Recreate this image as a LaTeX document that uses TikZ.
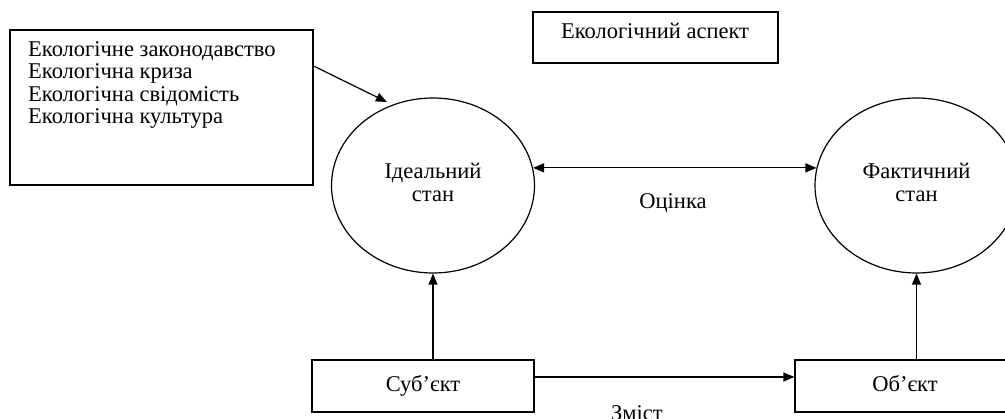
\documentclass[tikz,border=0pt]{standalone}
\usepackage{fontspec}
\setmainfont{Liberation Serif}
\usetikzlibrary{arrows.meta,shapes.geometric}
\begin{document}
\begin{tikzpicture}[x=1pt,y=-1pt,
  every node/.style={font=\fontsize{22.5}{22.5}\selectfont},
  boxnode/.style={draw,line width=1.2pt,rectangle,inner sep=0pt},
  ellnode/.style={draw,line width=1.2pt,ellipse,inner sep=0pt,minimum width=203pt,minimum height=175pt,align=center},
  txt/.style={inner sep=0pt},
  conn/.style={line width=1.2pt,-{Triangle[length=11pt,width=9pt]}},
  dconn/.style={line width=1.2pt,{Triangle[length=11pt,width=9pt]}-{Triangle[length=11pt,width=9pt]}}]
\useasboundingbox (0,0) rectangle (1005,419);
% left list box
\node[boxnode,minimum width=303pt,minimum height=155pt] (lb) at (161.5,107.5) {};
\node[txt,anchor=north west,align=left] (lbt) at (28,41) {Екологічне законодавство\\Екологічна криза\\Екологічна свідомість\\Екологічна культура};
% top box
\node[boxnode,minimum width=245pt,minimum height=51pt] (tb) at (655.5,37.5) {};
\node[txt] (tbt) at (655,31) {Екологічний аспект};
% circles
\node[ellnode] (ideal) at (433,185.5) {\begin{tabular}{@{}c@{}}Ідеальний\\стан\end{tabular}};
\node[ellnode] (fact) at (916.5,185.5) {\raisebox{6pt}{\begin{tabular}{@{}c@{}}Фактичний\\стан\end{tabular}}};
% bottom boxes
\node[boxnode,minimum width=222pt,minimum height=52pt] (subj) at (423,386) {\raisebox{5pt}{Суб’єкт}};
\node[boxnode,minimum width=242pt,minimum height=52pt] (obj) at (916,386) {\hspace*{-22pt}\raisebox{5pt}{Об’єкт}};
% labels
\node[txt] (ocinka) at (673,203) {Оцінка};
\node[txt] (zmist) at (637,413) {Зміст};
% connectors
\coordinate (hs) at ([yshift=9pt]subj.east);
\draw[conn] (lb.east |- 0,66) -- ([shift={(-2pt,4pt)}]ideal.119);
\draw[dconn] (ideal.10) -- (fact.170);
\draw[conn] (ideal.south |- subj.north) -- (ideal.south);
\draw[conn] (fact.south |- obj.north) -- (fact.south);
\draw[conn] (hs) -- (obj.west |- hs);
\end{tikzpicture}
\end{document}
